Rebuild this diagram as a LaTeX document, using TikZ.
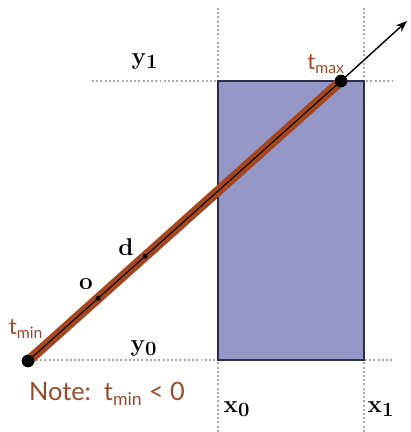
\documentclass[tikz,border=0pt]{standalone}
\usepackage{fontspec}
\newfontfamily\notefont{Lato}
\usetikzlibrary{arrows.meta, calc}
\definecolor{caja}{HTML}{9597C6}
\definecolor{borde}{HTML}{2B2E4C}
\definecolor{rayo}{HTML}{A4461F}
\definecolor{texto}{HTML}{9A4A2C}
\definecolor{gris}{HTML}{A8A8A8}

\begin{document}
\begin{tikzpicture}[x=0.025cm, y=-0.025cm,
		guia/.style={draw=gris, line width=1.6pt, dash pattern=on 1.4pt off 1.6pt},
		eje/.style={font=\fontsize{19}{22}\selectfont\boldmath},
		rotulo/.style={text=texto, font=\notefont\fontsize{16}{19}\selectfont},
		punto/.style={circle, fill=black, inner sep=0pt, minimum size=9pt},
		puntito/.style={circle, fill=black, inner sep=0pt, minimum size=3.5pt}]
				\useasboundingbox (0,0) rectangle (410,432);
				% lineas guia
				\draw[guia] (218,8) -- (218,432);
				\draw[guia] (364,8) -- (364,432);
				\draw[guia] (92,81) -- (392,81);
				\draw[guia] (36,360) -- (392,360);
				% caja
				\filldraw[fill=caja, draw=borde, line width=1pt] (218,81) rectangle (364,360);
				% rayo
				\coordinate (tmin) at (28,361);
				\coordinate (tmax) at (341,81);
				\coordinate (punta) at (407,21);
				\draw[rayo, line width=7pt] (tmin) -- (tmax);
				\draw[black, line width=0.7pt] (tmin) -- (tmax);
				\draw[-{Stealth[length=8pt, width=6pt]}, line width=1pt] (tmax) -- (punta);
				\node[punto] (pmin) at (tmin) {};
				\node[punto] (pmax) at (tmax) {};
				\node[puntito] (o) at ($(tmin)!0.224!(tmax)$) {};
				\node[puntito] (d) at ($(tmin)!0.374!(tmax)$) {};
				% rotulos
				\node[eje] (lo) at (86,284) {$\mathbf{o}$};
				\node[eje] (ld) at (126,247) {$\mathbf{d}$};
				\node[eje] (ly1) at (145,61) {$\mathbf{y_1}$};
				\node[eje] (ly0) at (144,348) {$\mathbf{y_0}$};
				\node[eje] (lx0) at (237,409) {$\mathbf{x_0}$};
				\node[eje] (lx1) at (381,409) {$\mathbf{x_1}$};
				\node[rotulo] (ltmax) at (326,64) {t\textsubscript{max}};
				\node[rotulo] (ltmin) at (26,329) {t\textsubscript{min}};
				\node[rotulo, font=\notefont\fontsize{18}{21}\selectfont] (nota) at (107,394)
					{Note:\ \ t\textsubscript{min} < 0};
			\end{tikzpicture}
\end{document}
